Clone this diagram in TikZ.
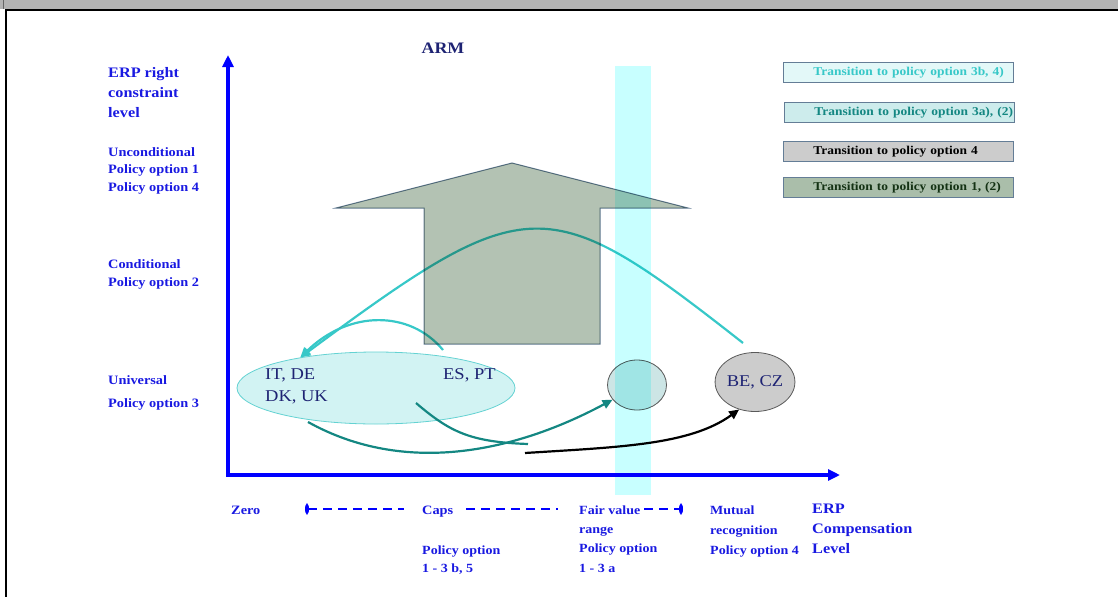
\documentclass[tikz,border=0pt]{standalone}
\usepackage{fontspec}
\setmainfont[FakeStretch=1.12]{Liberation Serif}
\usetikzlibrary{arrows.meta,shapes.geometric,positioning}

\definecolor{axisblue}{RGB}{0,0,255}
\definecolor{lblblue}{RGB}{25,25,225}
\definecolor{navy}{RGB}{30,35,115}
\definecolor{cyanline}{RGB}{55,200,200}
\definecolor{tealline}{RGB}{20,135,130}
\definecolor{bandcyan}{RGB}{200,255,255}
\definecolor{armfill}{RGB}{179,194,179}
\definecolor{armedge}{RGB}{100,125,150}
\definecolor{grpfill}{RGB}{210,243,243}
\definecolor{grpedge}{RGB}{100,210,210}
\definecolor{fvfill}{RGB}{204,229,229}
\definecolor{greyfill}{RGB}{204,204,204}
\definecolor{legA}{RGB}{227,248,248}
\definecolor{legB}{RGB}{205,236,236}
\definecolor{legD}{RGB}{170,190,170}
\definecolor{legtextD}{RGB}{20,50,20}
\definecolor{framegrey}{RGB}{179,179,179}

\begin{document}
\begin{tikzpicture}[x=1pt,y=-1pt,
    lbl/.style={anchor=base west,inner sep=0,align=left,text=lblblue,
      font=\fontsize{12.8}{17.5}\selectfont\bfseries},
    biglbl/.style={lbl,font=\fontsize{14.5}{20}\selectfont\bfseries},
    country/.style={anchor=base west,inner sep=0,align=left,text=navy,
      font=\fontsize{16.5}{22}\selectfont},
    legbox/.style={anchor=north west,draw=armedge,line width=0.8pt,
      minimum height=20pt,text width=230pt,inner xsep=0,inner ysep=0,align=left,
      font=\fontsize{12}{14}\selectfont\bfseries,
      execute at begin node=\hspace*{30pt}},
    axis/.style={draw=axisblue,line width=3.5pt,-{Triangle[length=12pt,width=11pt]}},
    dashline/.style={draw=axisblue,line width=2pt,dash pattern=on 9pt off 6pt},
    cyancurve/.style={draw=cyanline,line width=2.2pt,-{Triangle[length=10pt,width=9pt]}},
    tealcurve/.style={draw=tealline,line width=2.2pt,-{Triangle[length=10pt,width=9pt]}},
    blackcurve/.style={draw=black,line width=2.2pt,-{Triangle[length=10pt,width=9pt]}}]

    \useasboundingbox (0,0) rectangle (1118,597);

    % Frame
    \fill[framegrey] (0,0) rectangle (1118,9);
    \draw[black!60,line width=0.8pt] (3,0) -- (3,9);
    \draw[black,line width=2pt] (6,9.5) -- (1118,9.5);
    \draw[black,line width=2pt] (6,9) -- (6,597);

    % Groups of countries
    \node[ellipse,draw=grpedge,fill=grpfill,line width=0.8pt,
      minimum width=278pt,minimum height=72pt] (grp) at (376,388) {};
    \node[ellipse,draw=black!65,fill=fvfill,line width=0.8pt,
      minimum width=59pt,minimum height=50pt] (fv) at (637,385) {};
    \node[ellipse,draw=black!65,fill=greyfill,line width=0.8pt,inner sep=0,
      minimum width=63pt,minimum height=59pt,text=navy,
      font=\fontsize{16.5}{20}\selectfont] (becz) at (755,382) {BE, CZ};

    % Axes
    \coordinate (origin) at (228,475);
    \coordinate (ytop) at (228,55);
    \coordinate (xend) at (840,475);
    \draw[axis] ([yshift=1.75pt]origin) -- (ytop);
    \draw[axis] ([xshift=-1.75pt]origin) -- (xend);

    % Transitions
    \coordinate (s3b) at (743,343);
    \coordinate (s3bsmall) at (443,350);
    \coordinate (s3a) at (308,422);
    \coordinate (s3asmall) at (416,403);
    \coordinate (merge) at (528,444);
    \coordinate (s4) at (525,453);
    \draw[cyancurve] (s3b) .. controls (547,189) and (528,189) .. (grp.158);
    \draw[cyancurve] (s3bsmall) .. controls (410,310) and (349,310) .. (grp.158);
    \draw[tealcurve] (s3a) .. controls (405,476) and (515,452) .. (fv.211);
    \draw[draw=tealline,line width=2.2pt] (s3asmall) .. controls (450,432) and (470,442) .. (merge);
    \draw[blackcurve] (s4) .. controls (620,447) and (690,445) .. (becz.240);

    % Big arrow and fair value band
    \begin{scope}[blend mode=multiply]
      \filldraw[fill=armfill,draw=armedge,line width=1pt]
        (336,208) -- (512,163) -- (688,208) -- (600,208) -- (600,344)
        -- (424,344) -- (424,208) -- cycle;
      \fill[bandcyan] (615,66) rectangle (651,495);
    \end{scope}

    % Countries (base = last line)
    \node[country] (itde) at (265,401) {IT, DE\\DK, UK};
    \node[country] (espt) at (443,379) {ES, PT};

    % Title and y labels
    \node[anchor=base,inner sep=0,text=navy,font=\fontsize{16}{18}\selectfont\bfseries]
      (arm) at (443,53) {ARM};
    \node[biglbl] (ylab) at (108,117) {ERP right\\constraint\\level};
    \node[lbl] (uncond) at (108,191) {Unconditional\\Policy option 1\\Policy option 4};
    \node[lbl] (cond) at (108,286) {Conditional\\Policy option 2};
    \node[lbl,font=\fontsize{12.8}{23}\selectfont\bfseries] (univ) at (108,407) {Universal\\Policy option 3};

    % x labels
    \node[lbl] (zero) at (231,514) {Zero};
    \node[lbl] (caps) at (422,514) {Caps};
    \node[lbl,font=\fontsize{12.5}{18}\selectfont\bfseries] (capsopt) at (422,572) {Policy option\\1 - 3 b, 5};
    \node[lbl,font=\fontsize{12.5}{19.3}\selectfont\bfseries] (fair) at (579,572) {Fair value\\range\\Policy option\\1 - 3 a};
    \node[lbl,font=\fontsize{12.5}{20}\selectfont\bfseries] (mutual) at (710,554) {Mutual\\recognition\\Policy option 4};
    \node[biglbl] (xlab) at (812,553) {ERP\\Compensation\\Level};

    % Range of compensation
    \coordinate (dzero) at (305,509);
    \coordinate (dcapsA) at (404,509);
    \coordinate (dcapsB) at (466,509);
    \coordinate (dfairA) at (558,509);
    \coordinate (dfairB) at (644,509);
    \coordinate (dend) at (683,509);
    \draw[dashline,{Ellipse[length=4pt,width=10pt]}-] (dzero) -- (dcapsA);
    \draw[dashline] (dcapsB) -- (dfairA);
    \draw[dashline,-{Ellipse[length=4pt,width=10pt]}] (dfairB) -- (dend);

    % Legend
    \node[legbox,fill=legA,text=cyanline] (leg3b) at (783,62) {Transition to policy option 3b, 4)};
    \node[legbox,fill=legB,text=tealline] (leg3a) at (784,102) {Transition to policy option 3a), (2)};
    \node[legbox,fill=greyfill,text=black] (leg4) at (783,141) {Transition to policy option 4};
    \node[legbox,fill=legD,text=legtextD] (leg1) at (783,177) {Transition to policy option 1, (2)};

\end{tikzpicture}
\end{document}
